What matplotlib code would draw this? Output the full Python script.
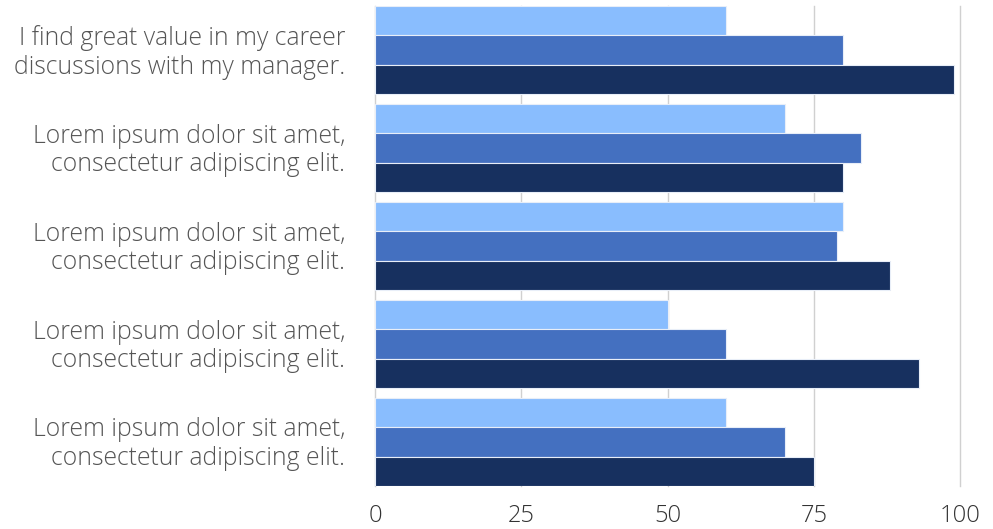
import numpy as np
import matplotlib.pyplot as plt

# data
categories = [
    "I find great value in my career\ndiscussions with my manager.",
    "Lorem ipsum dolor sit amet,\nconsectetur adipiscing elit.",
    "Lorem ipsum dolor sit amet,\nconsectetur adipiscing elit.",
    "Lorem ipsum dolor sit amet,\nconsectetur adipiscing elit.",
    "Lorem ipsum dolor sit amet,\nconsectetur adipiscing elit.",
]
series_light = [60, 70, 80, 50, 60]
series_mid = [80, 83, 79, 60, 70]
series_dark = [99, 80, 88, 93, 75]
x_ticks = [0, 25, 50, 75, 100]

colors = ["#89BDFE", "#4470C0", "#17305F"]

plt.rcParams['font.family'] = ['Open Sans', 'DejaVu Sans']

fig = plt.figure(figsize=(9.93, 5.29), dpi=100)
ax = fig.add_axes([375/993, 43/529, 585/993, 480/529])

y = np.arange(len(categories))
h = 0.3
for off, vals, c in zip([-h, 0, h], [series_light, series_mid, series_dark], colors):
    ax.barh(y + off, vals, height=h, color=c, edgecolor='#e8eef8', linewidth=0.8, zorder=3)

ax.set_xlim(0, 100)
ax.set_ylim(len(categories) - 0.55, -0.45)
ax.set_xticks(x_ticks)
ax.set_xticklabels([str(t) for t in x_ticks], fontsize=17, color='#333333', fontweight='light')
# labels sit a touch below the group centre in the reference
ax.set_yticks(y + 0.025)
ax.set_yticklabels(categories, fontsize=17.8, color='#555555', fontweight='light', linespacing=1.2,
                   va='center')
ax.tick_params(axis='both', length=0)
ax.tick_params(axis='y', pad=21.5)
ax.tick_params(axis='x', pad=13)
ax.grid(axis='x', color='#d0d0d0', linewidth=1, zorder=0)
for gl in ax.get_xgridlines():
    gl.set_clip_on(False)
for s in ax.spines.values():
    s.set_visible(False)

fig.savefig('out.png', dpi=100)
